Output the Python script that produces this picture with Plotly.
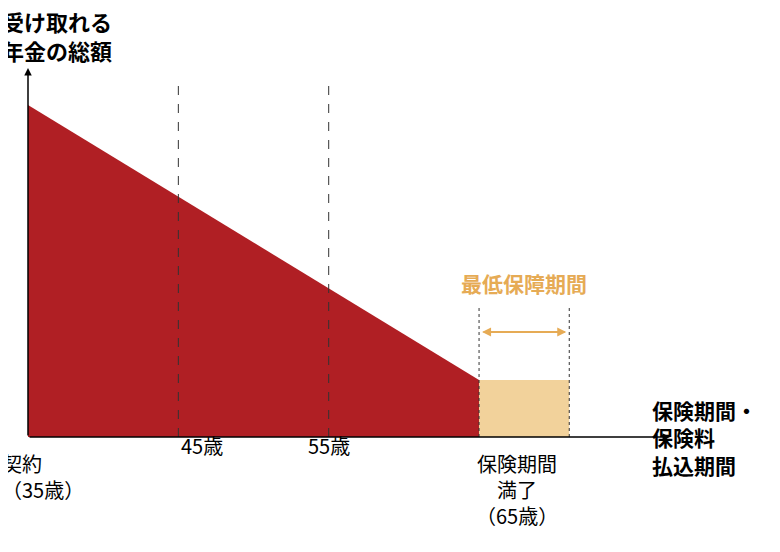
import plotly.graph_objects as go

ages_red = [35, 65]
total_red = [332, 57]
guarantee_ages = [65, 71]
guarantee_val = 57
tick_ages = [45, 55]
tick_labels = ["45歳", "55歳"]

RED = "#b01f24"; BEIGE = "#f2d29b"; GOLD = "#e6ab55"
F = "Noto Sans CJK JP"

fig = go.Figure()
fig.add_trace(go.Scatter(x=[ages_red[0], ages_red[0], ages_red[1], ages_red[1]],
                         y=[0, total_red[0], total_red[1], 0], fill="toself",
                         fillcolor=RED, line=dict(width=0), mode="lines", hoverinfo="skip"))
fig.add_trace(go.Scatter(x=[guarantee_ages[0], guarantee_ages[0], guarantee_ages[1], guarantee_ages[1]],
                         y=[0, guarantee_val, guarantee_val, 0], fill="toself",
                         fillcolor=BEIGE, line=dict(width=0), mode="lines", hoverinfo="skip"))

shapes = []
for a in tick_ages:
    shapes.append(dict(type="line", x0=a, x1=a, y0=0, y1=352, xref="x", yref="y",
                       line=dict(color="#333", width=1, dash="dash")))
for a in guarantee_ages:
    shapes.append(dict(type="line", x0=a, x1=a, y0=0, y1=132, xref="x", yref="y",
                       line=dict(color="#333", width=1, dash="dot")))

def px(p):  # image x pixel -> paper x
    return (p - 28) / 642
def py(p):  # image y pixel -> paper y
    return (437 - p) / 369

ann = []
ann.append(dict(x=77.7, y=0, ax=35, ay=0, xref="x", yref="y", axref="x", ayref="y",
                showarrow=True, arrowhead=2, arrowsize=1, arrowwidth=1.5, arrowcolor="black", text=""))
ann.append(dict(x=35, y=369, ax=35, ay=0, xref="x", yref="y", axref="x", ayref="y",
                showarrow=True, arrowhead=2, arrowsize=1, arrowwidth=1.5, arrowcolor="black", text=""))
for a, b in [(guarantee_ages[1] - 0.2, guarantee_ages[0] + 0.2), (guarantee_ages[0] + 0.2, guarantee_ages[1] - 0.2)]:
    ann.append(dict(x=a, y=105, ax=b, ay=105, xref="x", yref="y", axref="x", ayref="y",
                    showarrow=True, arrowhead=2, arrowsize=1, arrowwidth=1.8, arrowcolor=GOLD, text=""))
ann.append(dict(x=68, y=154, xref="x", yref="y", text="<b>最低保障期間</b>", showarrow=False,
                font=dict(color=GOLD, size=21, family=F)))
for a, t in zip(tick_ages, tick_labels):
    ann.append(dict(x=px(28 + (a - 35) * 15.05), y=py(462), xref="paper", yref="paper", text=t,
                    showarrow=False, font=dict(size=20, family=F, color="black")))
ann.append(dict(x=px(0), y=py(447), xref="paper", yref="paper", xanchor="left", yanchor="top", align="left",
                text="契約<br>（35歳）", showarrow=False, font=dict(size=20, family=F, color="black")))
ann.append(dict(x=px(560), y=py(447), xref="paper", yref="paper", yanchor="top", align="center",
                text="保険期間<br>満了<br>（65歳）", showarrow=False, font=dict(size=20, family=F, color="black")))
ann.append(dict(x=px(0), y=py(3), xref="paper", yref="paper", xanchor="left", yanchor="top", align="left",
                text="<b>受け取れる<br>年金の総額</b>", showarrow=False, font=dict(size=22, family=F, color="black")))
ann.append(dict(x=px(650), y=py(393), xref="paper", yref="paper", xanchor="left", yanchor="top", align="left",
                text="<b>保険期間・<br>保険料<br>払込期間</b>", showarrow=False, font=dict(size=21, family=F, color="black")))

fig.update_layout(width=780, height=552, margin=dict(l=20, r=118, t=60, b=123),
                  paper_bgcolor="white", plot_bgcolor="white", showlegend=False,
                  shapes=shapes, annotations=ann,
                  xaxis=dict(range=[35, 77.7], visible=False),
                  yaxis=dict(range=[0, 369], visible=False))
fig.write_html("out.html")
